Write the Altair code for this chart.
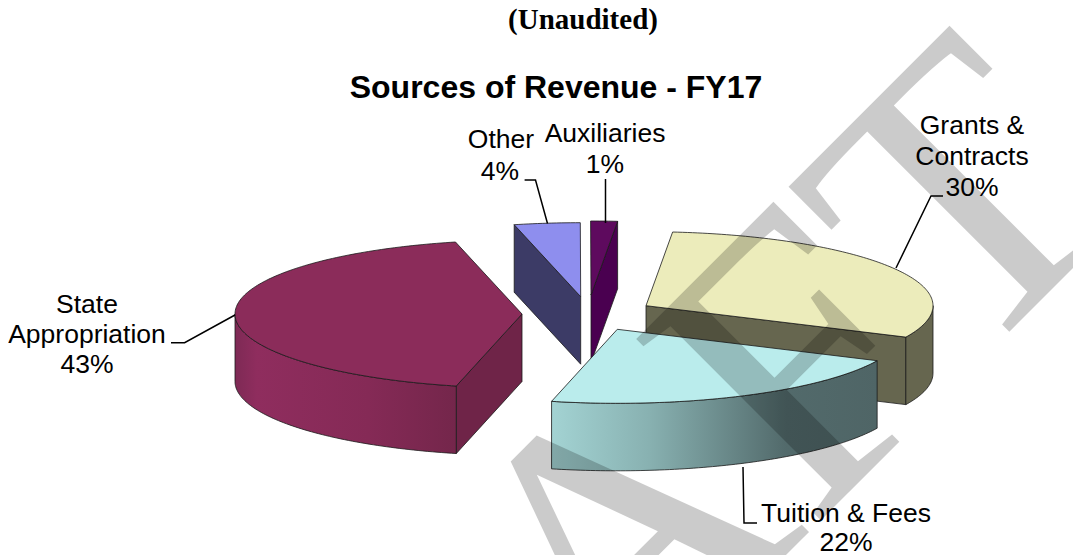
import math
import altair as alt
import pandas as pd

# ---- chart values ----
categories = ["Other", "Auxiliaries", "Grants & Contracts", "Tuition & Fees", "State Appropriation"]
shares = [3.7, 1.5, 30.5, 21.7, 42.6]
label_pct = ["4%", "1%", "30%", "22%", "43%"]

title_text = "Sources of Revenue - FY17"
header_text = "(Unaudited)"
watermark_text = "DRAFT"

# ---- style / layout ----
START_ANGLE = 103.4
RX, RY, DEPTH = 287.0, 74.0, 67.5
apex_x = [580.7, 591.0, 646.0, 617.3, 522.0]
apex_y = [296.7, 295.0, 305.7, 329.3, 314.0]
top_colors = ["#8E8EEE", "#5E0A5E", "#ECECBB", "#BAECEC", "#8B2C5A"]
wall_colors = ["#3C3B66", "#4A0050", "#66664F", "#4F6566", "#6F2448"]


def grad(*stops):
    return alt.Gradient(
        gradient="linear", x1=0, x2=1, y1=0, y2=0,
        stops=[alt.GradientStop(offset=o, color=c) for o, c in stops],
    )


rim_fills = [
    "#3C3B66", "#4A0050", "#66664F",
    grad((0, "#A3D3D3"), (0.3, "#88B1B1"), (0.72, "#526A6B"), (1, "#4F6566")),
    grad((0, "#7E2A55"), (0.1, "#8F2D5E"), (0.6, "#852A56"), (1, "#74264B")),
]
draw_order = [0, 1, 2, 4, 3]

XS = alt.Scale(domain=[8, 1073])
YS = alt.Scale(domain=[555, 8])
enc = dict(
    x=alt.X("x:Q", scale=XS, axis=None),
    y=alt.Y("y:Q", scale=YS, axis=None),
    order="i:Q",
)


def poly(points, fill, stroke="#1a1a1a", sw=0.8):
    df = pd.DataFrame(
        [{"x": px, "y": py, "i": n} for n, (px, py) in enumerate(points)]
    )
    return alt.Chart(df).mark_line(fill=fill, stroke=stroke, strokeWidth=sw).encode(**enc)


def pt(cx, cy, a, dy=0.0):
    r = math.radians(a)
    return (cx + RX * math.cos(r), cy - RY * math.sin(r) + dy)


def arc(cx, cy, a0, a1, dy=0.0):
    n = max(2, int(abs(a1 - a0) / 1.0) + 1)
    return [pt(cx, cy, a0 + (a1 - a0) * k / n, dy) for k in range(n + 1)]


layers = []
# slice angles, clockwise from the start angle
angles = []
a = START_ANGLE
for s in shares:
    b = a - s * 3.6
    angles.append((a, b))
    a = b

for idx in draw_order:
    a0, a1 = angles[idx]
    cx, cy = apex_x[idx], apex_y[idx]
    mid = (a0 + a1) / 2
    # cut faces that look towards the viewer
    for edge in (a0, a1):
        ex, ey = math.cos(math.radians(edge)), math.sin(math.radians(edge))
        mx, my = math.cos(math.radians(mid)), math.sin(math.radians(mid))
        if abs(ex) > 0.01 and my > mx * ey / ex:
            p = pt(cx, cy, edge)
            q = pt(cx, cy, edge, DEPTH)
            layers.append(poly([(cx, cy), p, q, (cx, cy + DEPTH), (cx, cy)], wall_colors[idx]))
    # outer rim: the part of the arc on the near side
    lo, hi = min(a0, a1), max(a0, a1)
    for base in (-360, 0):
        r0, r1 = max(lo, base - 180), min(hi, base)
        if r1 > r0:
            up = arc(cx, cy, r0, r1)
            down = arc(cx, cy, r1, r0, DEPTH)
            layers.append(poly(up + down + [up[0]], rim_fills[idx]))
    # top face
    top = [(cx, cy)] + arc(cx, cy, a0, a1) + [(cx, cy)]
    layers.append(poly(top, top_colors[idx]))

# leader lines
leaders = {
    "Other": [(524.6, 180), (535.5, 180), (547.5, 223.5)],
    "Auxiliaries": [(605.5, 179), (605.5, 223)],
    "Grants": [(943, 196), (931, 196), (896, 268)],
    "Tuition": [(743, 467), (744, 523), (757, 523)],
    "State": [(171, 342.7), (184.6, 342.7), (235, 315)],
}
for pts in leaders.values():
    df = pd.DataFrame([{"x": p[0], "y": p[1], "i": n} for n, p in enumerate(pts)])
    layers.append(alt.Chart(df).mark_line(color="#000000", strokeWidth=1.5).encode(**enc))

# labels
label_rows = [
    ("State", 87, 305), ("Appropriation", 87, 335), (label_pct[4], 87, 365),
    ("Other", 501, 140), (label_pct[0], 500, 172),
    ("Auxiliaries", 605, 134), (label_pct[1], 605, 165),
    ("Grants &", 972, 126), ("Contracts", 972, 157), (label_pct[2], 972, 188),
    ("Tuition & Fees", 846, 514), (label_pct[3], 846, 543),
]
labels = pd.DataFrame(label_rows, columns=["t", "x", "y"])
layers.append(
    alt.Chart(labels)
    .mark_text(font="Liberation Sans", fontSize=26.5, color="#000000", baseline="middle", align="center")
    .encode(x=enc["x"], y=enc["y"], text="t:N")
)

title_df = pd.DataFrame([{"t": title_text, "x": 556, "y": 88}])
layers.append(
    alt.Chart(title_df)
    .mark_text(font="Liberation Sans", fontSize=32, fontWeight="bold", color="#000000", baseline="middle", align="center")
    .encode(x=enc["x"], y=enc["y"], text="t:N")
)
head_df = pd.DataFrame([{"t": header_text, "x": 583, "y": 20}])
layers.append(
    alt.Chart(head_df)
    .mark_text(font="Liberation Serif", fontSize=29, fontWeight="bold", color="#000000", baseline="middle", align="center")
    .encode(x=enc["x"], y=enc["y"], text="t:N")
)

# watermark over everything
wm_df = pd.DataFrame([{"t": watermark_text, "x": 1137, "y": 204}])
layers.append(
    alt.Chart(wm_df)
    .mark_text(font="Liberation Serif", fontSize=395, color="#000000", opacity=0.2, angle=315, align="right", baseline="alphabetic")
    .encode(x=enc["x"], y=enc["y"], text="t:N")
)

chart = (
    alt.layer(*layers)
    .properties(width=1065, height=547, padding=0, autosize=alt.AutoSizeParams(type="none"), background="#ffffff")
    .configure_view(stroke=None)
)
chart.save("out.html", embed_options={"renderer": "svg", "actions": False})
